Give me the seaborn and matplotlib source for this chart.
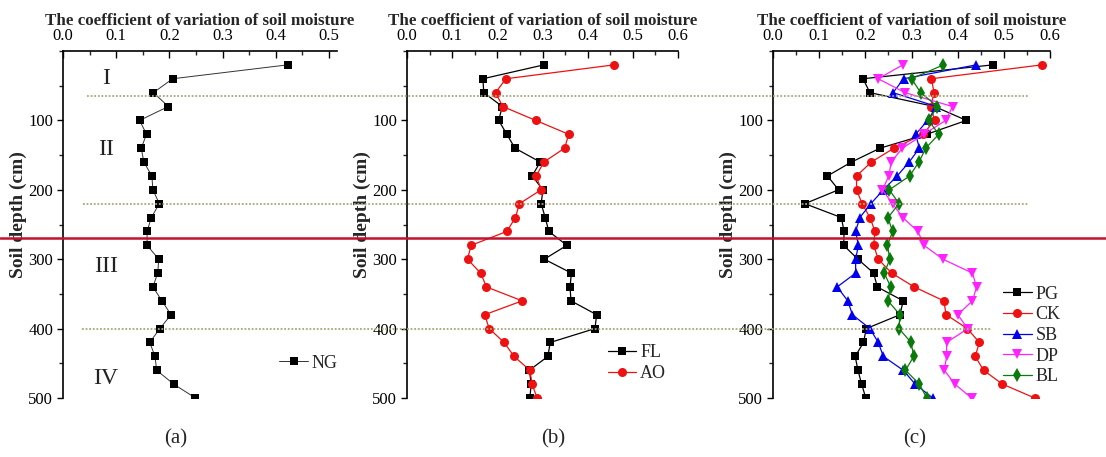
import numpy as np
import pandas as pd
import matplotlib
matplotlib.use("Agg")
import matplotlib.pyplot as plt
import matplotlib.transforms as mtransforms
from matplotlib.lines import Line2D
from matplotlib.ticker import MultipleLocator
import seaborn as sns

# ---------------- data ----------------
depth = list(range(20, 501, 20))

NG = [0.422, 0.206, 0.170, 0.198, 0.144, 0.157, 0.147, 0.152, 0.167, 0.169,
      0.181, 0.166, 0.158, 0.158, 0.180, 0.178, 0.169, 0.186, 0.203, 0.182,
      0.163, 0.173, 0.176, 0.208, 0.249]

FL = [0.303, 0.168, 0.170, 0.211, 0.203, 0.221, 0.239, 0.295, 0.277, 0.301,
      0.297, 0.306, 0.314, 0.354, 0.304, 0.364, 0.361, 0.363, 0.420, 0.416,
      0.317, 0.312, 0.271, 0.275, 0.272]
AO = [0.458, 0.219, 0.196, 0.212, 0.285, 0.358, 0.349, 0.303, 0.286, 0.297,
      0.249, 0.240, 0.221, 0.142, 0.134, 0.163, 0.176, 0.255, 0.172, 0.182,
      0.215, 0.237, 0.272, 0.277, 0.288]

PG = [0.476, 0.195, 0.210, 0.350, 0.419, 0.333, 0.232, 0.170, 0.118, 0.142,
      0.069, 0.148, 0.154, 0.153, 0.184, 0.218, 0.226, 0.282, 0.275, 0.202,
      0.196, 0.178, 0.184, 0.192, 0.201]
CK = [0.582, 0.343, 0.349, 0.342, 0.350, 0.325, 0.262, 0.213, 0.181, 0.181,
      0.193, 0.210, 0.221, 0.218, 0.228, 0.257, 0.306, 0.370, 0.375, 0.421,
      0.447, 0.438, 0.456, 0.497, 0.567]
SB = [0.440, 0.283, 0.260, 0.354, 0.335, 0.309, 0.317, 0.295, 0.269, 0.239,
      0.212, 0.188, 0.179, 0.185, 0.179, 0.179, 0.139, 0.162, 0.172, 0.210,
      0.228, 0.239, 0.282, 0.308, 0.346]
DP = [0.281, 0.228, 0.286, 0.389, 0.374, 0.327, 0.280, 0.256, 0.251, 0.237,
      0.259, 0.281, 0.314, 0.327, 0.368, 0.432, 0.441, 0.432, 0.400, 0.422,
      0.376, 0.376, 0.371, 0.394, 0.430]
BL = [0.369, 0.300, 0.320, 0.356, 0.337, 0.359, 0.331, 0.316, 0.296, 0.252,
      0.273, 0.249, 0.259, 0.248, 0.253, 0.241, 0.255, 0.249, 0.275, 0.273,
      0.299, 0.305, 0.287, 0.317, 0.333]

x_title = "The coefficient of variation of soil moisture"
y_title = "Soil depth (cm)"
panel_labels = ["(a)", "(b)", "(c)"]
zones = ["I", "II", "III", "IV"]
zone_depths = [40, 142, 311, 472]
boundary_depths = [65, 220, 400]
red_line_depth = 270

# ---------------- style ----------------
sns.set_theme(style="white")
plt.rcParams["font.family"] = ["Liberation Serif", "DejaVu Serif"]

fig = plt.figure(figsize=(11.06, 4.57), dpi=100)
H = 457.0
W = 1106.0
top_px, bot_px = 51, 398
axes_px = [(63, 337), (407, 678), (773, 1050)]
xmaxes = [0.515, 0.6, 0.6]
axs = []
for (l, r) in axes_px:
    ax = fig.add_axes([l / W, 1 - bot_px / H, (r - l) / W, (bot_px - top_px) / H])
    axs.append(ax)

def style_axis(ax, xmax):
    ax.set_xlim(0, xmax)
    ax.set_ylim(500, 0)
    ax.xaxis.tick_top()
    ax.xaxis.set_label_position("top")
    ax.set_xlabel(x_title, fontsize=12.2, fontweight="bold", labelpad=2)
    ax.set_ylabel(y_title, fontsize=14, fontweight="bold", labelpad=1)
    ax.yaxis.label.set_y(0.53)
    ax.xaxis.set_minor_locator(MultipleLocator(0.05))
    ax.yaxis.set_minor_locator(MultipleLocator(50))
    ticks = np.arange(0, xmax + 1e-9, 0.1)
    ax.set_xticks(ticks)
    ax.set_xticklabels([f"{v:.1f}" for v in ticks])
    ax.set_yticks([100, 200, 300, 400, 500])
    ax.set_yticklabels(["100", "200", "300", "400", "500"])
    ax.tick_params(axis="x", which="major", direction="in", length=5, width=1,
                   labelsize=12, pad=5, top=True, bottom=False, colors="black")
    ax.tick_params(axis="x", which="minor", direction="in", length=3, width=1,
                   top=True, bottom=False)
    ax.tick_params(axis="y", which="major", direction="out", length=4, width=1,
                   labelsize=12, pad=3, left=True, colors="black")
    ax.tick_params(axis="y", which="minor", direction="out", length=3, width=1,
                   left=True)
    for s in ["right", "bottom"]:
        ax.spines[s].set_visible(False)
    for s in ["left", "top"]:
        ax.spines[s].set_color("black")
        ax.spines[s].set_linewidth(1.2)
    ax.set_facecolor("none")

common = dict(sort=False, estimator=None, linewidth=0.9, markersize=6,
              markeredgewidth=0)

# panel a
ax = axs[0]
sns.lineplot(x=NG, y=depth, ax=ax, color="black", marker="s", label="NG",
             **{**common, "linewidth": 0.7})
ax.get_lines()[0].set_color("#333333")
ax.get_lines()[0].set_markerfacecolor("black")

# panel b
ax = axs[1]
sns.lineplot(x=FL, y=depth, ax=ax, color="black", marker="s", label="FL", **common)
sns.lineplot(x=AO, y=depth, ax=ax, color="#ee1111", marker="o", label="AO",
             **{**common, "markersize": 6.5})

# panel c
ax = axs[2]
series_c = [("PG", PG, "black", "s", 6), ("CK", CK, "#ee1111", "o", 6.5),
            ("SB", SB, "#0000ee", "^", 6.5), ("DP", DP, "#ff22ff", "v", 6.5),
            ("BL", BL, "#0a7a0a", "d", 7)]
for name, vals, col, mk, ms in series_c:
    sns.lineplot(x=vals, y=depth, ax=ax, color=col, marker=mk, label=name,
                 **{**common, "markersize": ms})

for ax, xm in zip(axs, xmaxes):
    style_axis(ax, xm)

# legends
leg_kw = dict(frameon=False, fontsize=13, handlelength=1.6, handletextpad=0.2,
              labelspacing=0.2, borderaxespad=0, borderpad=0)
axs[0].legend(loc="center left", bbox_to_anchor=(0.79, 0.10), **leg_kw)
axs[1].legend(loc="center left", bbox_to_anchor=(0.74, 0.10), **leg_kw)
axs[2].legend(loc="center left", bbox_to_anchor=(0.83, 0.18), **leg_kw)

# zone labels
for z, d in zip(zones, zone_depths):
    axs[0].text(0.081, d, z, fontsize=17, ha="center", va="center", color="#222222")

# boundary dotted lines spanning the figure
trans = mtransforms.blended_transform_factory(fig.transFigure, axs[0].transData)
extents = [(87, 1028), (83, 1028), (82, 992)]
for d, (x0, x1) in zip(boundary_depths, extents):
    fig.add_artist(Line2D([x0 / W, x1 / W], [d, d], transform=trans,
                          color="#a9a77a", linestyle=(0, (1, 1)), linewidth=1.3))

# red line across figure
fig.add_artist(Line2D([0, 1], [red_line_depth, red_line_depth], transform=trans,
                      color="#c3122f", linewidth=1.8))

# panel labels
for lab, xp in zip(panel_labels, [176, 553, 915]):
    fig.text(xp / W, 1 - 439 / H, lab, fontsize=15, ha="center", va="center")

fig.savefig("out.png", dpi=100)
